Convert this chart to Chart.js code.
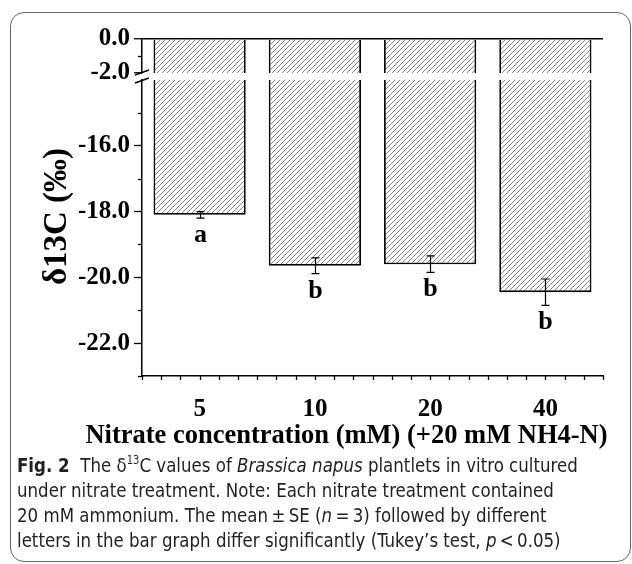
<!DOCTYPE html>
<html><head><meta charset="utf-8">
<script src="https://cdn.jsdelivr.net/npm/chart.js@4.4.1/dist/chart.umd.min.js"></script>
<style>
html,body{margin:0;padding:0;background:#fff;width:632px;height:564px;overflow:hidden}
#frame{position:absolute;left:10px;top:12px;width:621px;height:550px;border:1.5px solid #666;border-radius:14px;box-sizing:border-box}
#wrap{position:absolute;left:0;top:0;width:632px;height:470px}
#cap{position:absolute;left:17px;top:453px;font-family:"DejaVu Sans Condensed","Liberation Sans Narrow",sans-serif;font-size:20px;line-height:25px;color:#231f20;white-space:nowrap;transform:scaleX(0.925);transform-origin:0 0}
#cap sup{font-size:12px;line-height:0;vertical-align:8px}
</style></head><body>
<div id="frame"></div>
<div id="wrap"><canvas id="c"></canvas></div>
<div id="cap"><b>Fig. 2</b>&nbsp; The δ<sup>13</sup>C values of <i>Brassica napus</i> plantlets in vitro cultured<br>under nitrate treatment. Note: Each nitrate treatment contained<br>20 mM ammonium. The mean&#8201;±&#8201;SE (<i>n</i>&#8201;=&#8201;3) followed by different<br>letters in the bar graph differ significantly (Tukey’s test, <i>p</i>&#8201;&lt;&#8201;0.05)</div>
<script>
// ---- data ----
const categories = ['5', '10', '20', '40'];
const means = [-18.10, -19.65, -19.60, -20.45];
const se = [0.10, 0.24, 0.25, 0.40];
const letters = ['a', 'b', 'b', 'b'];
const upperRange = [-2, 0];      // upper axis segment
const lowerRange = [-23, -14];   // lower axis segment
const yTickStep = 1;
const xSubTicksPerCategory = 6;
const yTitle = 'δ13C (‰)';
const xTitle = 'Nitrate concentration (mM) (+20 mM NH4-N)';

// ---- styles ----
const serifBold = (size) => ({family: 'Liberation Serif', weight: 'bold', size: size});

function makeHatch() {
  const s = 5;
  const c = document.createElement('canvas');
  c.width = s; c.height = s;
  const g = c.getContext('2d');
  g.fillStyle = '#fff'; g.fillRect(0, 0, s, s);
  g.strokeStyle = '#6e6e6e'; g.lineWidth = 0.85;
  g.beginPath();
  g.moveTo(0, s); g.lineTo(s, 0);
  g.moveTo(-1, 1); g.lineTo(1, -1);
  g.moveTo(s - 1, s + 1); g.lineTo(s + 1, s - 1);
  g.stroke();
  return g.createPattern(c, 'repeat');
}
const hatch = makeHatch();

const topData = means.map(v => [upperRange[1], Math.max(v, upperRange[0])]);
const botData = means.map(v => [lowerRange[1], Math.min(v, lowerRange[1])]);

const isLabelled = (scale, v) => {
  if (scale === 'yTop') return Math.round(v) % 2 === 0;
  return Math.round(v) % 2 === 0 && v < lowerRange[1] && v > lowerRange[0];
};

const extrasPlugin = {
  id: 'extras',
  afterDraw(chart) {
    const ctx = chart.ctx;
    const yT = chart.scales.yTop, yB = chart.scales.yBot, x = chart.scales.x;
    const area = chart.chartArea;
    ctx.save();
    ctx.strokeStyle = '#000';
    // minor y ticks
    ctx.lineWidth = 1.3;
    [['yTop', yT], ['yBot', yB]].forEach(([id, s]) => {
      s.ticks.forEach(t => {
        if (isLabelled(id, t.value)) return;
        if (id === 'yBot' && t.value === lowerRange[1]) return;
        const py = Math.round(s.getPixelForValue(t.value)) + 0.5;
        ctx.beginPath(); ctx.moveTo(s.right - 4, py); ctx.lineTo(s.right, py); ctx.stroke();
      });
    });
    // x ticks (sub-divisions of each category)
    const n = categories.length * xSubTicksPerCategory;
    for (let k = 0; k <= n; k++) {
      const v = -0.5 + k / xSubTicksPerCategory;
      const px = Math.round(x.getPixelForValue(v)) + 0.5;
      ctx.beginPath(); ctx.moveTo(px, x.top); ctx.lineTo(px, x.top + 4); ctx.stroke();
    }
    // axis break marks
    const ax = yB.right;
    ctx.lineWidth = 1.4;
    ctx.beginPath();
    ctx.moveTo(ax - 7, yT.bottom + 2); ctx.lineTo(ax + 7, yT.bottom - 3);
    ctx.moveTo(ax - 7, yB.top + 3); ctx.lineTo(ax + 7, yB.top - 2);
    ctx.stroke();
    // axis titles
    ctx.fillStyle = '#000';
    ctx.textAlign = 'center';
    ctx.textBaseline = 'middle';
    ctx.font = 'bold 26.5px "Liberation Serif"';
    ctx.fillText(xTitle, (area.left + area.right) / 2 - 26, x.bottom - 34);
    ctx.translate(57, (area.top + area.bottom) / 2 + 9);
    ctx.rotate(-Math.PI / 2);
    ctx.font = 'bold 33px "Liberation Serif"';
    ctx.fillText(yTitle, 0, 0);
    ctx.restore();
  },
  afterDatasetsDraw(chart) {
    const ctx = chart.ctx;
    const yB = chart.scales.yBot, x = chart.scales.x;
    ctx.save();
    ctx.strokeStyle = '#000';
    ctx.lineWidth = 1.2;
    ctx.fillStyle = '#000';
    ctx.font = 'bold 26px "Liberation Serif"';
    ctx.textAlign = 'center';
    ctx.textBaseline = 'alphabetic';
    means.forEach((m, i) => {
      const cx = Math.round(x.getPixelForValue(i)) + 0.5;
      const y1 = yB.getPixelForValue(m + se[i]);
      const y2 = yB.getPixelForValue(m - se[i]);
      ctx.beginPath();
      ctx.moveTo(cx, y1); ctx.lineTo(cx, y2);
      ctx.moveTo(cx - 4, y1); ctx.lineTo(cx + 4, y1);
      ctx.moveTo(cx - 4, y2); ctx.lineTo(cx + 4, y2);
      ctx.stroke();
      ctx.fillText(letters[i], cx, y2 + 24);
    });
    ctx.restore();
  }
};

const yCommon = {
  type: 'linear',
  position: 'left',
  stack: 'y',
  border: {display: true, color: '#000', width: 1.5},
  afterFit: (s) => { s.width = 142; }
};

new Chart(document.getElementById('c'), {
  type: 'bar',
  data: {
    labels: categories,
    datasets: [
      {data: topData, yAxisID: 'yTop', backgroundColor: hatch, borderColor: '#000',
       borderWidth: {left: 1.8, right: 1.8, top: 0, bottom: 0}, borderSkipped: false,
       grouped: false, barPercentage: 0.8, categoryPercentage: 1},
      {data: botData, yAxisID: 'yBot', backgroundColor: hatch, borderColor: '#000',
       borderWidth: {left: 1.8, right: 1.8, top: 0, bottom: 1.8}, borderSkipped: false,
       grouped: false, barPercentage: 0.8, categoryPercentage: 1}
    ]
  },
  options: {
    responsive: true,
    maintainAspectRatio: false,
    animation: false,
    events: [],
    layout: {padding: {left: 0, top: 39, right: 29, bottom: 0}},
    plugins: {legend: {display: false}, tooltip: {enabled: false}},
    scales: {
      x: {
        type: 'category',
        grid: {display: false},
        border: {display: true, color: '#000', width: 1.5},
        ticks: {color: '#000', font: serifBold(25), padding: 11, autoSkip: false, maxRotation: 0},
        afterFit: (s) => { s.height = 94; }
      },
      yBot: Object.assign({}, yCommon, {
        min: lowerRange[0], max: lowerRange[1], stackWeight: 296, weight: 0,
        grid: {drawOnChartArea: false, tickLength: 8, tickWidth: 1.3,
               tickColor: (c) => (c.tick && isLabelled('yBot', c.tick.value)) ? '#000' : 'rgba(0,0,0,0)'},
        ticks: {stepSize: yTickStep, autoSkip: false, color: '#000', font: serifBold(25), padding: 4,
                callback: (v) => isLabelled('yBot', v) ? v.toFixed(1) : ''}
      }),
      yGap: {type: 'linear', position: 'left', stack: 'y', stackWeight: 7, weight: 1, display: false, min: 0, max: 1,
             afterFit: (s) => { s.width = 142; }},
      yTop: Object.assign({}, yCommon, {
        min: upperRange[0], max: upperRange[1], stackWeight: 34, weight: 2,
        grid: {drawOnChartArea: true, lineWidth: 1.5, tickLength: 8, tickWidth: 1.3,
               color: (c) => (c.tick && c.tick.value === upperRange[1]) ? '#000' : 'rgba(0,0,0,0)',
               tickColor: (c) => (c.tick && isLabelled('yTop', c.tick.value)) ? '#000' : 'rgba(0,0,0,0)'},
        ticks: {stepSize: yTickStep, autoSkip: false, color: '#000', font: serifBold(25), padding: 4,
                callback: (v) => isLabelled('yTop', v) ? v.toFixed(1) : ''}
      })
    }
  },
  plugins: [extrasPlugin]
});
</script>
</body></html>
